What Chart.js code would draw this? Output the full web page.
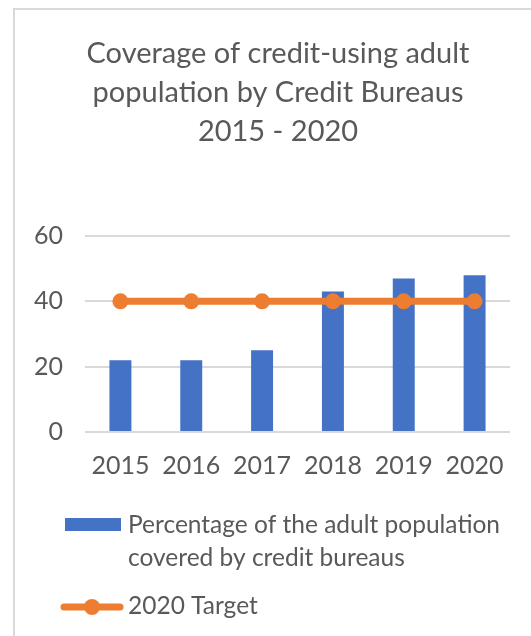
<!DOCTYPE html>
<html>
<head>
<meta charset="utf-8">
<script src="https://cdn.jsdelivr.net/npm/chart.js@4"></script>
<style>
  html, body { margin: 0; padding: 0; background: #ffffff; }
  #wrap { width: 531px; height: 636px; }
</style>
</head>
<body>
<div id="wrap"><canvas id="myChart" width="531" height="636"></canvas></div>
<script>
const years = ['2015', '2016', '2017', '2018', '2019', '2020'];
const coverage = [22, 22, 25, 43, 47, 48];
const target2020 = [40, 40, 40, 40, 40, 40];
const titleLines = ['Coverage of credit-using adult', 'population by Credit Bureaus', '2015 - 2020'];
const coverageLabel = 'Percentage of the adult population covered by credit bureaus';
const targetLabel = '2020 Target';
const yMin = 0, yMax = 60, yStep = 20;

const textColor = '#595959';
const fontFamily = 'Lato, "Open Sans", sans-serif';

// frame lines (top + left) behind everything
const framePlugin = {
    id: 'frame',
    beforeDraw(chart) {
        const ctx = chart.ctx;
        ctx.save();
        ctx.fillStyle = '#ffffff';
        ctx.fillRect(0, 0, chart.width, chart.height);
        ctx.strokeStyle = '#d9d9d9';
        ctx.lineWidth = 2;
        ctx.beginPath();
        ctx.moveTo(14, chart.height);
        ctx.lineTo(14, 9);
        ctx.lineTo(chart.width, 9);
        ctx.stroke();
        ctx.restore();
    },
    // the outer chart box runs past the right edge, so centre the title on it
    afterLayout(chart) {
        chart.titleBlock.left = 25;
        chart.titleBlock.right = 531;
    }
};

// legend under the plot, bar label wrapped onto two lines
const legendPlugin = {
    id: 'wrappedLegend',
    afterDraw(chart) {
        const ctx = chart.ctx;
        const ds = chart.data.datasets;
        ctx.save();
        ctx.font = '24.5px ' + fontFamily;
        ctx.fillStyle = textColor;
        ctx.textBaseline = 'alphabetic';
        ctx.textAlign = 'left';

        const words = ds[0].label.split(' ');
        let lines = [], cur = '';
        words.forEach(w => {
            const test = cur ? cur + ' ' + w : w;
            if (ctx.measureText(test).width > 390 && cur) {
                lines.push(cur);
                cur = w;
            } else {
                cur = test;
            }
        });
        lines.push(cur);

        ctx.fillStyle = ds[0].backgroundColor;
        ctx.fillRect(65, 518, 56, 13);
        ctx.fillStyle = textColor;
        lines.forEach((l, i) => ctx.fillText(l, 128, 533 + i * 33));

        const y = 607;
        ctx.strokeStyle = ds[1].borderColor;
        ctx.lineWidth = ds[1].borderWidth;
        ctx.lineCap = 'round';
        ctx.beginPath();
        ctx.moveTo(64, y);
        ctx.lineTo(120, y);
        ctx.stroke();
        ctx.fillStyle = ds[1].pointBackgroundColor;
        ctx.beginPath();
        ctx.arc(92, y, ds[1].pointRadius, 0, Math.PI * 2);
        ctx.fill();
        ctx.fillStyle = textColor;
        ctx.fillText(ds[1].label, 128, 614);
        ctx.restore();
    }
};

const ctx = document.getElementById('myChart').getContext('2d');
const chart = new Chart(ctx, {
    type: 'bar',
    data: {
        labels: years,
        datasets: [{
            type: 'bar',
            label: coverageLabel,
            data: coverage,
            backgroundColor: '#4472c4',
            categoryPercentage: 0.31,
            barPercentage: 1,
            order: 1
        }, {
            type: 'line',
            label: targetLabel,
            data: target2020,
            borderColor: '#ed7d31',
            backgroundColor: '#ed7d31',
            pointBackgroundColor: '#ed7d31',
            pointBorderWidth: 0,
            pointRadius: 8,
            borderWidth: 7,
            tension: 0,
            order: 0
        }]
    },
    options: {
        responsive: false,
        animation: false,
        layout: {
            padding: { left: 30, right: 21, top: 0, bottom: 144 }
        },
        plugins: {
            legend: { display: false },
            tooltip: { enabled: false },
            title: {
                display: true,
                text: titleLines,
                color: textColor,
                font: { family: fontFamily, size: 29, weight: 'normal', lineHeight: 1.345 },
                padding: { top: 34, bottom: 85 }
            }
        },
        scales: {
            x: {
                grid: { display: false },
                border: { display: false },
                ticks: {
                    color: textColor,
                    font: { family: fontFamily, size: 25 },
                    padding: 11
                }
            },
            y: {
                min: yMin,
                max: yMax,
                afterFit(scale) { scale.width = 55; },
                grid: { color: '#d9d9d9', lineWidth: 2, drawTicks: false },
                border: { display: false },
                ticks: {
                    stepSize: yStep,
                    color: textColor,
                    font: { family: fontFamily, size: 25 },
                    padding: 22
                }
            }
        }
    },
    plugins: [framePlugin, legendPlugin]
});
</script>
</body>
</html>
